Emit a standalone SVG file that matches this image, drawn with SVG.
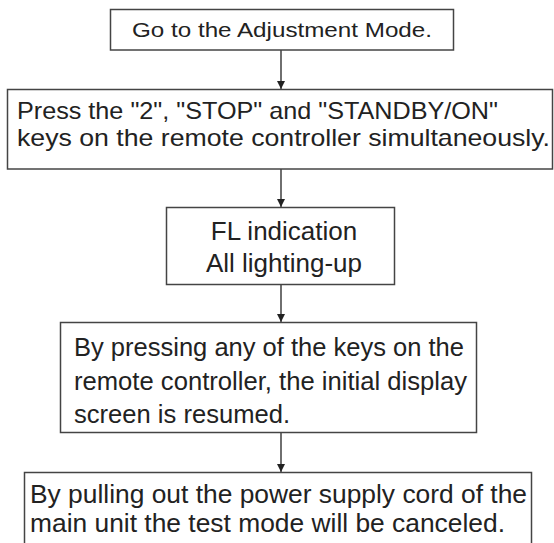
<svg xmlns="http://www.w3.org/2000/svg" width="554" height="543" viewBox="0 0 554 543">
<defs>
<marker id="ah" viewBox="0 0 10 10" refX="10" refY="5" markerWidth="8" markerHeight="8" markerUnits="userSpaceOnUse" orient="auto">
<path d="M0,0 L10,5 L0,10 z" fill="#222"/>
</marker>
<style>
.box{fill:#fff;stroke:#444;stroke-width:1.5}
.t{font-family:"Liberation Sans",Arial,sans-serif;fill:#222}
.c{stroke:#222;stroke-width:1.3;fill:none}
</style>
</defs>
<rect width="554" height="543" fill="#fff"/>
<g id="connectors">
<line class="c" x1="281" y1="50" x2="281" y2="89" marker-end="url(#ah)"/>
<line class="c" x1="281" y1="169" x2="281" y2="207" marker-end="url(#ah)"/>
<line class="c" x1="281" y1="284" x2="281" y2="322" marker-end="url(#ah)"/>
<line class="c" x1="281" y1="432" x2="281" y2="472" marker-end="url(#ah)"/>
</g>
<g id="n1">
<rect class="box" x="110.5" y="9.5" width="343" height="40.5"/>
<text class="t" x="282" y="37" font-size="20" text-anchor="middle" textLength="300" lengthAdjust="spacingAndGlyphs">Go to the Adjustment Mode.</text>
</g>
<g id="n2">
<rect class="box" x="7.5" y="89.5" width="545" height="79.5"/>
<text class="t" x="17" y="119" font-size="24" textLength="481" lengthAdjust="spacingAndGlyphs">Press the "2", "STOP" and "STANDBY/ON"</text>
<text class="t" x="17" y="146" font-size="24" textLength="533" lengthAdjust="spacingAndGlyphs">keys on the remote controller simultaneously.</text>
</g>
<g id="n3">
<rect class="box" x="166.5" y="207.5" width="228" height="77"/>
<text class="t" x="284" y="240" font-size="26" text-anchor="middle">FL indication</text>
<text class="t" x="284" y="271.5" font-size="26" text-anchor="middle">All lighting-up</text>
</g>
<g id="n4">
<rect class="box" x="60.5" y="322.5" width="416" height="110"/>
<text class="t" x="74" y="356" font-size="25" textLength="390" lengthAdjust="spacingAndGlyphs">By pressing any of the keys on the</text>
<text class="t" x="74" y="390" font-size="25" textLength="393" lengthAdjust="spacingAndGlyphs">remote controller, the initial display</text>
<text class="t" x="74" y="423" font-size="25" textLength="216" lengthAdjust="spacingAndGlyphs">screen is resumed.</text>
</g>
<g id="n5">
<rect class="box" x="24.5" y="472.5" width="507" height="90"/>
<text class="t" x="30" y="503" font-size="25" textLength="497" lengthAdjust="spacingAndGlyphs">By pulling out the power supply cord of the</text>
<text class="t" x="30" y="531.5" font-size="25" textLength="475" lengthAdjust="spacingAndGlyphs">main unit the test mode will be canceled.</text>
</g>
</svg>
